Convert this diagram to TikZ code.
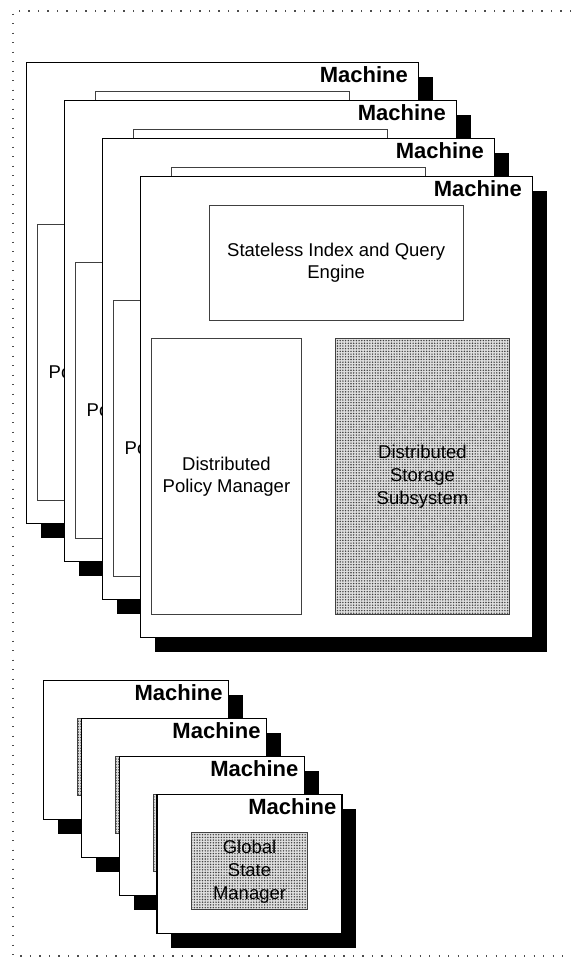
\documentclass[tikz,border=0pt]{standalone}
\usepackage{fontspec}
\setmainfont{Liberation Sans}
\usetikzlibrary{positioning,shadows,patterns}
\pgfdeclarepatternformonly{finedots}{\pgfqpoint{-1pt}{-1pt}}{\pgfqpoint{1pt}{1pt}}{\pgfqpoint{2.7pt}{2.7pt}}{\pgfpathcircle{\pgfqpoint{0pt}{0pt}}{0.8pt}\pgfusepath{fill}}

\begin{document}
\begin{tikzpicture}[x=1pt,y=-1pt,
	machine/.style={draw,line width=1.1pt,fill=white,inner sep=0pt,anchor=north west,drop shadow={shadow xshift=14.5pt,shadow yshift=-14.5pt,fill=black,opacity=1}},
	part/.style={draw=black!75,line width=0.9pt,inner sep=0pt,anchor=north west,align=center,font=\fontsize{18.5}{22}\selectfont},
	stored/.style={part,preaction={fill=gray!25},pattern=finedots,pattern color=black!75,font=\fontsize{18.5}{23}\selectfont},
	maclabel/.style={inner sep=0pt,anchor=base east,font=\fontsize{22}{24}\selectfont\bfseries}]
	\useasboundingbox (0,0) rectangle (571,967);
	\draw [black!70,line width=1.1pt,dash pattern=on 1.1pt off 8.4pt] (571,11) -- (13,11) -- (13,956) -- (571,956);
	
	% indexing machines
	\foreach \i in {1,...,4}{
		\node (mach\i) [machine,minimum width=392.5pt,minimum height=461pt] at ({-12.5+38*\i},{24+38*\i}) {};
		\node (lab\i) [maclabel] at ([xshift=-11pt,yshift=-20pt]mach\i.north east) {Machine};
		\node (query\i) [part,minimum width=254.5pt,minimum height=115pt,below right=29pt and 69pt of mach\i.north west] {Stateless Index and Query\\Engine};
		\node (policy\i) [part,minimum width=150pt,minimum height=276.3pt,below right=161.7pt and 11.5pt of mach\i.north west] {Distributed\\Policy Manager};
		\node (storage\i) [stored,minimum width=174pt,minimum height=276.3pt,below right=161.7pt and 195.5pt of mach\i.north west] {Distributed\\Storage\\Subsystem};
	}
	
	% state machines
	\foreach \i in {1,...,4}{
		\node (gmach\i) [machine,minimum width=185pt,minimum height=138.5pt] at ({4.8+37.9*\i},{641.9+38.1*\i}) {};
		\node (glab\i) [maclabel] at ([xshift=-6pt,yshift=-20pt]gmach\i.north east) {Machine};
		\node (state\i) [stored,minimum width=116pt,minimum height=77pt,below right=38pt and 34.7pt of gmach\i.north west] {Global\\State\\Manager};
	}
\end{tikzpicture}
\end{document}
